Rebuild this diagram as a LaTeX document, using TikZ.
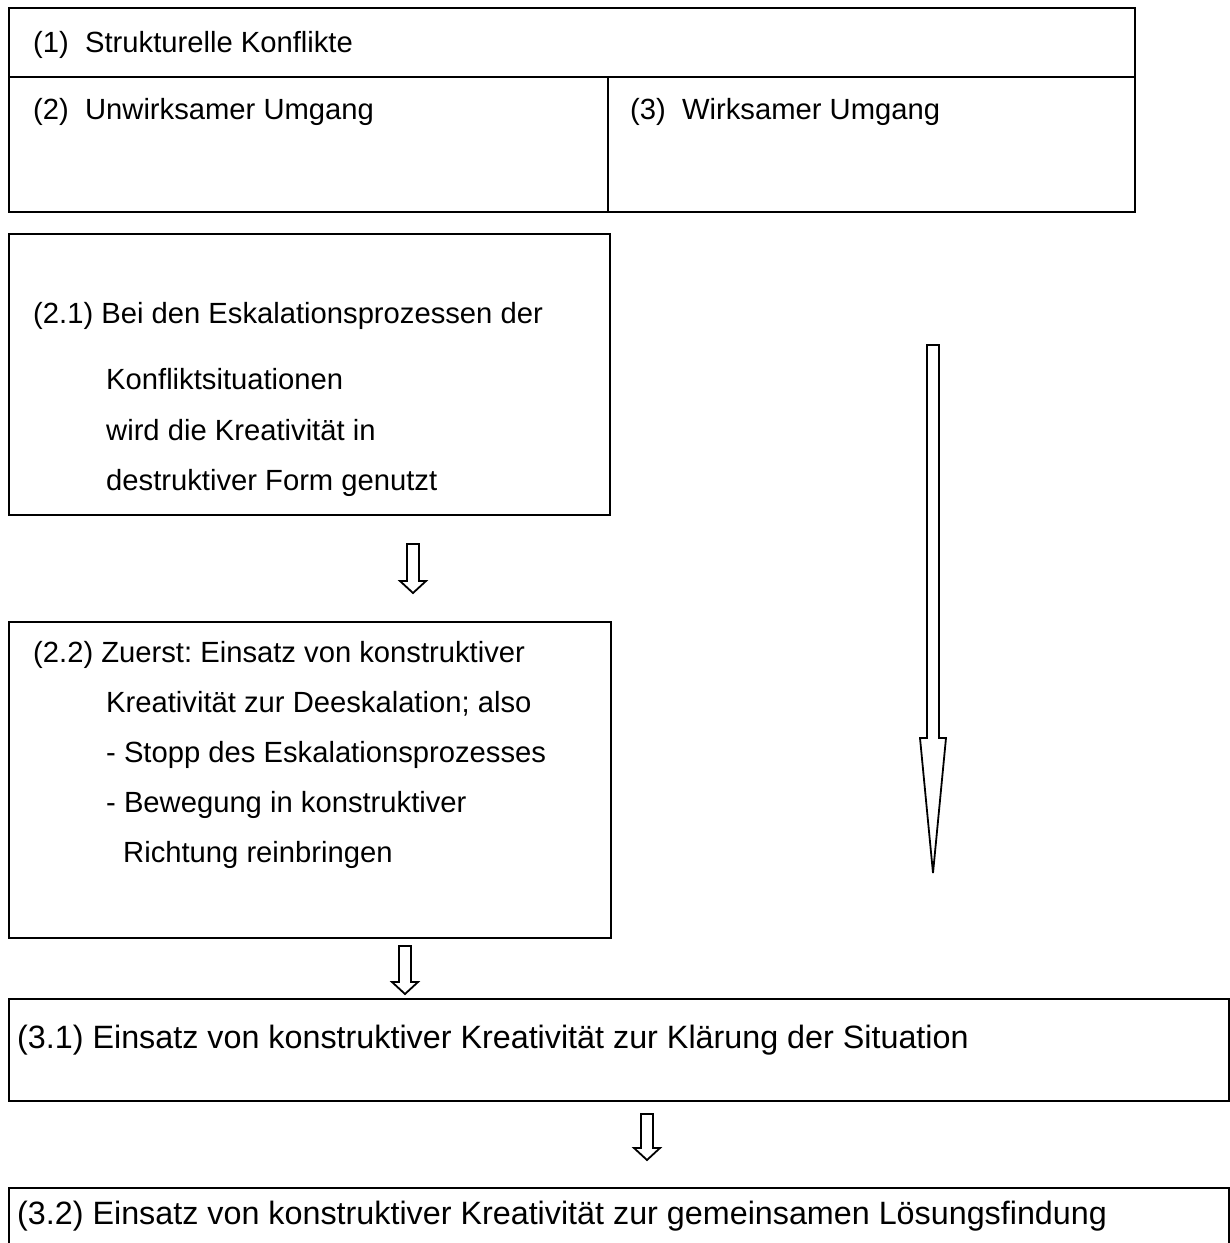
\documentclass[tikz,border=0pt]{standalone}
\usepackage{fontspec}
\setmainfont{Liberation Sans}
\frenchspacing
\begin{document}
\begin{tikzpicture}[x=1pt,y=-1pt,
  box/.style={draw, line width=2.2pt, inner sep=0, anchor=north west},
  txt/.style={anchor=base west, inner sep=0, font=\fontsize{29.2}{35}\selectfont},
  bigtxt/.style={anchor=base west, inner sep=0, font=\fontsize{32.3}{38}\selectfont},
  barrow/.style={draw, line width=1.8pt, fill=white, line join=miter}]
\useasboundingbox (0,0) rectangle (1230,1243);

% top table
\node[box, minimum width=1126pt, minimum height=69pt] (r1) at (8,7) {};
\node[box, minimum width=599pt, minimum height=135pt] (r2) at (8,76) {};
\node[box, minimum width=527pt, minimum height=135pt] (r3) at (607,76) {};
\node[txt] (t1) at (33,52) {(1)\hspace{0.556em}Strukturelle Konflikte};
\node[txt] (t2) at (33,119) {(2)\hspace{0.556em}Unwirksamer Umgang};
\node[txt] (t3) at (630,119) {(3)\hspace{0.556em}Wirksamer Umgang};

% box 2.1
\node[box, minimum width=601pt, minimum height=281pt] (b21) at (8,233) {};
\node[txt] (t21a) at (33,323) {(2.1) Bei den Eskalationsprozessen der};
\node[txt] (t21b) at (106,389) {Konfliktsituationen};
\node[txt] (t21c) at (106,440) {wird die Kreativität in};
\node[txt] (t21d) at (106,490) {destruktiver Form genutzt};

% box 2.2
\node[box, minimum width=602pt, minimum height=316pt] (b22) at (8,621) {};
\node[txt] (t22a) at (33,662) {(2.2) Zuerst: Einsatz von konstruktiver};
\node[txt] (t22b) at (106,712) {Kreativität zur Deeskalation; also};
\node[txt] (t22c) at (106,762) {- Stopp des Eskalationsprozesses};
\node[txt] (t22d) at (106,812) {- Bewegung in konstruktiver};
\node[txt] (t22e) at (123,862) {Richtung reinbringen};

% box 3.1 and 3.2
\node[box, minimum width=1220pt, minimum height=102pt] (b31) at (8,998) {};
\node[bigtxt] (t31) at (17,1048) {(3.1) Einsatz von konstruktiver Kreativität zur Klärung der Situation};
\node[box, minimum width=1220pt, minimum height=90pt] (b32) at (8,1187) {};
\node[bigtxt] (t32) at (17,1224) {(3.2) Einsatz von konstruktiver Kreativität zur gemeinsamen Lösungsfindung};

% block arrows
\draw[barrow] (407,544)--(419,544)--(419,581)--(426,581)--(413,593)--(400,581)--(407,581)--cycle;
\draw[barrow] (399,946)--(411,946)--(411,982)--(418,982)--(405,994)--(392,982)--(399,982)--cycle;
\draw[barrow] (641,1114)--(653,1114)--(653,1148)--(660,1148)--(647,1160)--(634,1148)--(641,1148)--cycle;
\draw[barrow] (927,345)--(939,345)--(939,738)--(946,738)--(933,873)--(920,738)--(927,738)--cycle;
\end{tikzpicture}
\end{document}
